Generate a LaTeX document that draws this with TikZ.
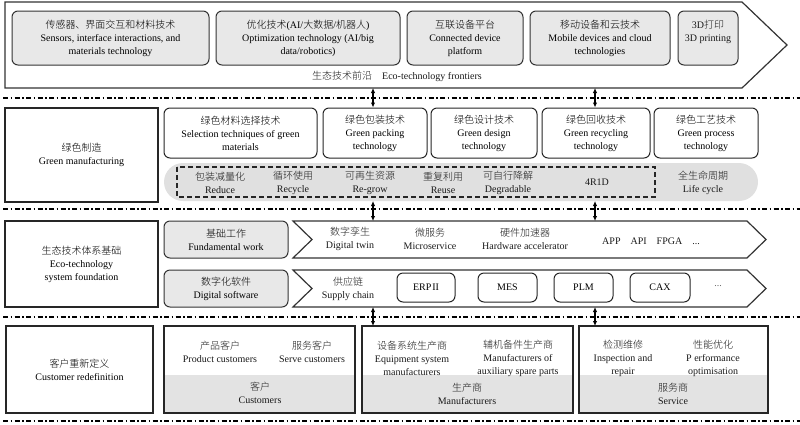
\documentclass[tikz,border=0pt]{standalone}
\usepackage{fontspec}
\setmainfont{Liberation Serif}
\newfontfamily\cjk{Noto Sans CJK SC Light}
\usetikzlibrary{arrows.meta}
\newcommand{\zh}[1]{{\cjk #1}}
\begin{document}
\begin{tikzpicture}[x=1pt,y=-1pt,font=\fontsize{10}{13}\selectfont,
  topbox/.style={draw=black!80,fill=black!9,rounded corners=6pt,line width=1pt,align=center,inner sep=0pt},
  wbox/.style={draw=black!85,fill=white,rounded corners=6pt,line width=1pt,align=center,inner sep=0pt},
  plainbox/.style={draw=black!85,line width=1.1pt,align=center,inner sep=0pt},
  txt/.style={align=center,inner sep=0pt,text=black!90},
  sep/.style={line width=1.1pt,dash pattern=on 5pt off 2.5pt on 1.5pt off 2.5pt},
  link/.style={{Latex[length=5pt,width=4.5pt]}-{Latex[length=5pt,width=4.5pt]},line width=1.2pt},
  outline/.style={draw=black!80,line width=1.2pt,line join=miter}]
\useasboundingbox (0,0) rectangle (800,424);

% ---------- Row 1: frontiers ----------
\draw[outline] (5,2) -- (742,2) -- (787,45) -- (742,88) -- (5,88) -- cycle;
\coordinate (topA) at (373,88);
\coordinate (topB) at (595,88);
\node[topbox,minimum width=197pt,minimum height=54pt] (f1) at (110.5,38) {\zh{传感器、界面交互和材料技术}\\Sensors, interface interactions, and\\materials technology};
\node[topbox,minimum width=184pt,minimum height=54pt] (f2) at (308,38) {\zh{优化技术}(AI/\zh{大数据}/\zh{机器人})\\Optimization technology (AI/big\\data/robotics)};
\node[topbox,minimum width=116pt,minimum height=54pt] (f3) at (465,38) {\zh{互联设备平台}\\Connected device\\platform};
\node[topbox,minimum width=140pt,minimum height=54pt] (f4) at (600,38) {\zh{移动设备和云技术}\\Mobile devices and cloud\\technologies};
\node[topbox,minimum width=60pt,minimum height=54pt] (f5) at (708,38) {};
\node[txt] (f5t) at (708,32) {3D\zh{打印}\\3D printing};
\node[txt] (front) at (397,76) {\zh{生态技术前沿}\quad Eco-technology frontiers};

\draw[sep] (3,98) -- (800,98);

% ---------- Row 2: green manufacturing ----------
\node[plainbox,minimum width=153pt,minimum height=94pt] (gm) at (81.5,155) {\zh{绿色制造}\\Green manufacturing};
\node[wbox,minimum width=153pt,minimum height=50pt] (g1) at (240.5,133) {\zh{绿色材料选择技术}\\Selection techniques of green\\materials};
\node[wbox,minimum width=104pt,minimum height=50pt] (g2) at (375,133) {\zh{绿色包装技术}\\Green packing\\technology};
\node[wbox,minimum width=106pt,minimum height=50pt] (g3) at (484,133) {\zh{绿色设计技术}\\Green design\\technology};
\node[wbox,minimum width=108pt,minimum height=50pt] (g4) at (596,133) {\zh{绿色回收技术}\\Green recycling\\technology};
\node[wbox,minimum width=104pt,minimum height=50pt] (g5) at (706,133) {\zh{绿色工艺技术}\\Green process\\technology};
\node[fill=black!12,rounded corners=19pt,minimum width=594pt,minimum height=38pt,inner sep=0pt] (bar) at (461,182) {};
\draw[line width=1.3pt,dash pattern=on 5pt off 3pt,draw=black!85] (177,167) rectangle (655,197);
\node[txt] (r1) at (220,182.5) {\zh{包装减量化}\\Reduce};
\node[txt] (r2) at (293,182.5) {\zh{循环使用}\\Recycle};
\node[txt] (r3) at (370,182.5) {\zh{可再生资源}\\Re-grow};
\node[txt] (r4) at (443,182.5) {\zh{重复利用}\\Reuse};
\node[txt] (r5) at (508,182.5) {\zh{可自行降解}\\Degradable};
\node[txt] (r6) at (597,182.5) {4R1D};
\node[txt] (r7) at (703,182.5) {\zh{全生命周期}\\Life cycle};
\coordinate (barA) at (373,201);
\coordinate (barB) at (595,201);

\draw[sep] (3,209) -- (800,209);

% ---------- Row 3: foundation ----------
\node[plainbox,minimum width=153pt,minimum height=86pt] (fd) at (81.5,264) {\zh{生态技术体系基础}\\Eco-technology\\system foundation};
\node[topbox,minimum width=124pt,minimum height=37pt] (fw) at (226,239.5) {\zh{基础工作}\\Fundamental work};
\node[topbox,minimum width=124pt,minimum height=37pt] (ds) at (226,288.5) {\zh{数字化软件}\\Digital software};
\draw[outline] (293,221) -- (747,221) -- (766,239.5) -- (747,258) -- (293,258) -- (312,239.5) -- cycle;
\draw[outline] (293,270) -- (747,270) -- (766,288.5) -- (747,307) -- (293,307) -- (312,288.5) -- cycle;
\coordinate (chA) at (373,221);
\coordinate (chB) at (595,221);
\coordinate (cbA) at (373,307);
\coordinate (cbB) at (595,307);
\node[txt] (d1) at (350,239) {\zh{数字孪生}\\Digital twin};
\node[txt] (d2) at (430,239) {\zh{微服务}\\Microservice};
\node[txt] (d3) at (525,239) {\zh{硬件加速器}\\Hardware accelerator};
\node[txt] (d4) at (651,241) {APP\quad API\quad FPGA\quad ...};
\node[txt] (s1) at (348,288.5) {\zh{供应链}\\Supply chain};
\node[wbox,minimum width=58pt,minimum height=29pt] (s2) at (426,287.5) {ERP\kern1pt II};
\node[wbox,minimum width=59pt,minimum height=29pt] (s3) at (507.5,287.5) {MES};
\node[wbox,minimum width=59pt,minimum height=29pt] (s4) at (583.5,287.5) {PLM};
\node[wbox,minimum width=60pt,minimum height=29pt] (s5) at (660,287.5) {CAX};
\node[txt,text=black!60] (s6) at (718,286) {...};

\draw[sep] (3,317) -- (800,317);

% ---------- Row 4: customers ----------
\node[plainbox,minimum width=147pt,minimum height=87pt] (cr) at (79.5,369.5) {\zh{客户重新定义}\\Customer redefinition};
\fill[black!11] (164,375) rectangle (355,413);
\fill[black!11] (362,375) rectangle (573,413);
\fill[black!11] (579,375) rectangle (768,413);
\node[plainbox,minimum width=191pt,minimum height=87pt] (cu) at (259.5,369.5) {};
\node[plainbox,minimum width=211pt,minimum height=87pt] (mf) at (467.5,369.5) {};
\node[plainbox,minimum width=189pt,minimum height=87pt] (sv) at (673.5,369.5) {};
\coordinate (cuT) at (373,326);
\coordinate (svT) at (595,326);
\node[txt] (c1) at (220,352) {\zh{产品客户}\\Product customers};
\node[txt] (c2) at (312,352) {\zh{服务客户}\\Serve customers};
\node[txt] (c3) at (260,393) {\zh{客户}\\Customers};
\node[txt] (m1) at (412,358) {\zh{设备系统生产商}\\Equipment system\\manufacturers};
\node[txt] (m2) at (518,358) {\zh{辅机备件生产商}\\Manufacturers of\\auxiliary spare parts};
\node[txt] (m3) at (467,394) {\zh{生产商}\\Manufacturers};
\node[txt] (v1) at (623,358) {\zh{检测维修}\\Inspection and\\repair};
\node[txt] (v2) at (713,358) {\zh{性能优化}\\P\ erformance\\optimisation};
\node[txt] (v3) at (673,394) {\zh{服务商}\\Service};

\draw[sep] (3,421) -- (800,421);

% ---------- connectors ----------
\draw[link] (topA) -- (topA |- g2.north);
\draw[link] (topB) -- (topB |- g4.north);
\draw[link] (barA) -- (chA);
\draw[link] (barB) -- (chB);
\draw[link] (cbA) -- (cuT);
\draw[link] (cbB) -- (svT);
\end{tikzpicture}
\end{document}
